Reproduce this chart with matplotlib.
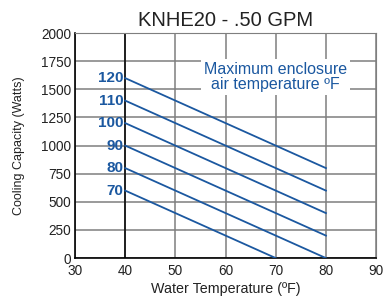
import matplotlib.pyplot as plt

plt.rcParams['font.family'] = ['Liberation Sans', 'DejaVu Sans']

# enclosure air temperature (F) -> line end points
labels = ['120', '110', '100', '90', '80', '70']
water_start = [40, 40, 40, 40, 40, 40]
water_end = [80, 80, 80, 80, 80, 70]
watts_start = [1600, 1400, 1200, 1000, 800, 600]
watts_end = [800, 600, 400, 200, 0, 0]

blue = '#1b58a0'

fig = plt.figure(figsize=(3.83, 3.04), dpi=100)
ax = fig.add_axes([0.196, 0.151, 0.786, 0.740])

for lab, x0, x1, y0, y1 in zip(labels, water_start, water_end, watts_start, watts_end):
    ax.plot([x0, x1], [y0, y1], color=blue, lw=1.3, zorder=3)
    ax.text(x0 - 0.4, y0, lab, color=blue, fontsize=11, fontweight='bold',
            ha='right', va='center', zorder=4)

ax.set_xlim(30, 90)
ax.set_ylim(0, 2000)
ax.set_xticks(range(30, 91, 10))
ax.set_yticks(range(0, 2001, 250))
ax.grid(True, color='#7f7f7f', lw=1.1, zorder=1)
ax.axvline(40, color='black', lw=1.1, zorder=2)
ax.tick_params(length=0, labelsize=9.8, colors='#222222')
ax.tick_params(axis='y', pad=3)
ax.tick_params(axis='x', pad=4)
for s in ['top', 'right']:
    ax.spines[s].set_color('#7f7f7f')
for s in ['left', 'bottom']:
    ax.spines[s].set_color('black')
    ax.spines[s].set_linewidth(1.2)

ax.text(70, 1610, 'Maximum enclosure\nair temperature ºF', color=blue, fontsize=11.5,
        ha='center', va='center', linespacing=1.0, zorder=5,
        bbox=dict(facecolor='white', edgecolor='none', pad=2))

ax.set_title('KNHE20 - .50 GPM', fontsize=14.5, color='#222222', pad=5)
ax.set_xlabel('Water Temperature (ºF)', fontsize=10.3, color='#222222', labelpad=3)
ax.set_ylabel('Cooling Capacity (Watts)', fontsize=9, color='#222222', labelpad=11)

fig.savefig('out.png', dpi=100)
